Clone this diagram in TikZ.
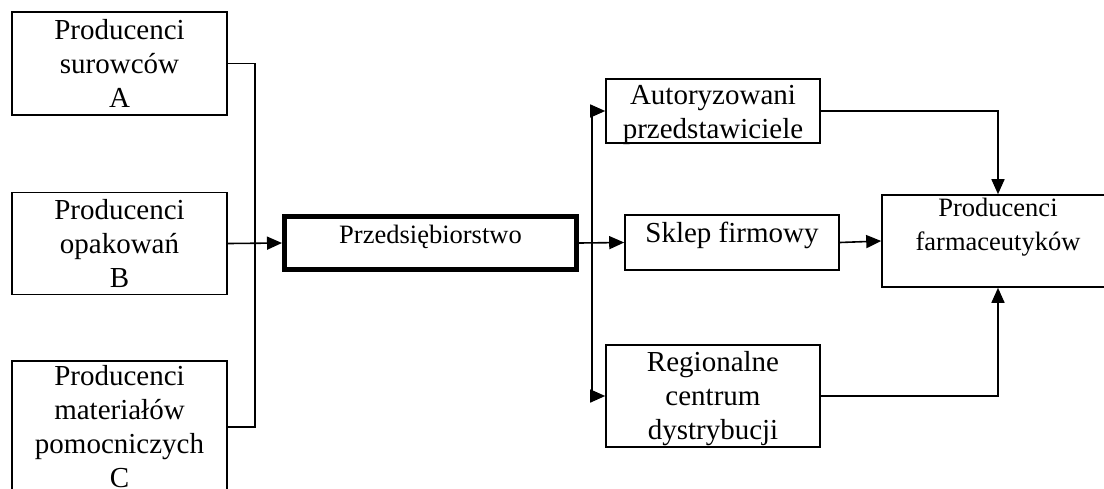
\documentclass[tikz,border=0pt]{standalone}
\usepackage{fontspec}
\setmainfont{Liberation Serif}
\usetikzlibrary{arrows.meta}

\begin{document}
\begin{tikzpicture}[x=1pt,y=-1pt,
  box/.style={draw, line width=1.6pt, inner sep=0pt, align=center,
    font=\fontsize{29}{34}\selectfont},
  tekst/.style={inner sep=0pt, align=center, font=\fontsize{29}{34}\selectfont},
  firmabox/.style={draw, line width=5pt, inner sep=0pt, align=center,
    font=\fontsize{26.5}{34}\selectfont},
  polacz/.style={line width=1.6pt},
  strz/.style={line width=1.6pt, -{Triangle[length=15pt,width=13pt]}}]

\useasboundingbox (0,0) rectangle (1104,488);

% suppliers on the left
\node[box, minimum width=215, minimum height=103] (srA) at (119.5,63.5) {Producenci\\surowców\\A};
\node[box, minimum width=215, minimum height=102] (opB) at (119.5,243.5) {Producenci\\opakowań\\B};
\node[box, minimum width=215, minimum height=132] (matC) at (119.5,427) {Producenci\\materiałów\\pomocniczych\\C};

% the company
\node[firmabox, minimum width=292, minimum height=53, text height=11pt, text depth=11pt] (firma) at (430.5,243) {Przedsiębiorstwo};

% distribution channels
\node[box, minimum width=214, minimum height=64] (agent) at (713,111) {};
\node[tekst] (agentTxt) at ([yshift=-4pt]agent.center) {Autoryzowani\\przedstawiciele};
\node[box, minimum width=214, minimum height=55, text height=12pt, text depth=12pt] (sklep) at (732,242.5) {Sklep firmowy};
\node[box, minimum width=214, minimum height=102] (centrum) at (713,396) {};
\node[tekst] (centrumTxt) at ([yshift=-3pt]centrum.center) {Regionalne\\centrum\\dystrybucji};

% customers
\node[box, minimum width=232, minimum height=92, font=\fontsize{26.5}{34}\selectfont] (farm) at (998,241) {Producenci\\farmaceutyków\\\mbox{}};

% collecting line of the suppliers
\coordinate (wezel) at (255,243);
\draw[polacz] (srA.east) -| (wezel) |- (matC.east);
\draw[strz] (opB.east) -- (firma.west);

% splitting line to the channels
\coordinate (rozg) at (592,243);
\draw[strz] (firma.east) -- (sklep.west);
\draw[strz] (rozg) |- (agent.west);
\draw[strz] (rozg) |- (centrum.west);

% channels to customers
\draw[strz] (agent.east) -| (farm.north);
\draw[strz] (sklep.east) -- (farm.west);
\draw[strz] (centrum.east) -| (farm.south);

\end{tikzpicture}
\end{document}
